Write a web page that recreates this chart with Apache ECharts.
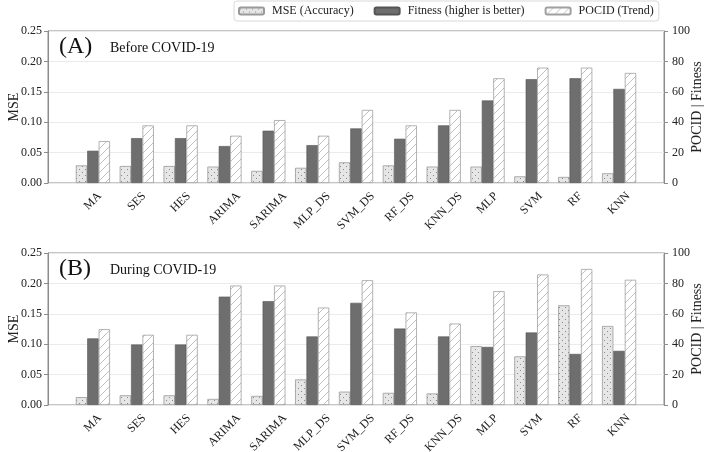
<!DOCTYPE html>
<html><head><meta charset="utf-8">
<script src="https://cdn.jsdelivr.net/npm/echarts@6/dist/echarts.min.js"></script>
<style>html,body{margin:0;padding:0;background:#fff}#c{width:708px;height:452px}</style>
</head><body><div id="c"></div>
<script>
const categories = ['MA','SES','HES','ARIMA','SARIMA','MLP_DS','SVM_DS','RF_DS','KNN_DS','MLP','SVM','RF','KNN'];
const mseBefore = [0.029,0.028,0.028,0.027,0.020,0.025,0.034,0.029,0.027,0.027,0.011,0.010,0.016];
const fitBefore = [21.2,29.5,29.5,24.3,34.4,24.9,35.9,29.1,37.9,54.3,68.3,68.9,61.9];
const pocBefore = [27.6,37.9,37.9,31.1,41.4,31.1,48.1,37.9,48.1,68.9,75.9,75.9,72.4];
const mseDuring = [0.013,0.016,0.016,0.010,0.015,0.042,0.022,0.020,0.019,0.097,0.080,0.164,0.130];
const fitDuring = [43.8,39.8,39.8,71.3,68.3,45.1,67.2,50.3,45.1,38.2,47.7,33.6,35.6];
const pocDuring = [49.9,46.2,46.2,78.6,78.6,64.1,82.1,60.9,53.6,74.9,85.9,89.5,82.4];
const mseTicks = [0, 0.25, 0.05];
const rightTicks = [0, 100, 20];
const panelLabels = ['(A)','(B)'];
const panelTitles = ['Before COVID-19','During COVID-19'];
const names = ['MSE (Accuracy)','Fitness (higher is better)','POCID (Trend)'];

const FONT = 'Liberation Serif';
const LABEL_FONT = '12px "' + FONT + '"';

const measureCanvas = document.createElement('canvas').getContext('2d');
function textWidth(t){ measureCanvas.font = LABEL_FONT; return measureCanvas.measureText(t).width; }

function dotPattern(){
  const c = document.createElement('canvas'); c.width = 6; c.height = 6;
  const g = c.getContext('2d');
  g.fillStyle = '#e6e6e6'; g.fillRect(0,0,6,6);
  g.fillStyle = '#8a8a8a';
  g.fillRect(1,1,1,1); g.fillRect(4,4,1,1);
  return {image: c, repeat: 'repeat'};
}
function hatchPattern(){
  const s = 8;
  const c = document.createElement('canvas'); c.width = s; c.height = s;
  const g = c.getContext('2d');
  g.fillStyle = '#ffffff'; g.fillRect(0,0,s,s);
  g.strokeStyle = '#b0b0b0'; g.lineWidth = 0.8;
  g.beginPath();
  g.moveTo(0,s); g.lineTo(s,0);
  g.moveTo(-1,1); g.lineTo(1,-1);
  g.moveTo(s-1,s+1); g.lineTo(s+1,s-1);
  g.stroke();
  return {image: c, repeat: 'repeat'};
}
const dots = dotPattern();
const hatch = hatchPattern();

const panels = [
  {top: 31, mse: mseBefore, fit: fitBefore, poc: pocBefore},
  {top: 253, mse: mseDuring, fit: fitDuring, poc: pocDuring}
];
const H = 152;
const grid = [], xAxis = [], yAxis = [], series = [], graphic = [];
panels.forEach((p, i) => {
  grid.push({left: 48, right: 44, top: p.top, height: H, show: true, borderColor: '#8c8c8c', borderWidth: 1,
    containLabel: false, outerBoundsMode: 'none'});
  grid.push({left: 71, right: 67, top: p.top, height: H, containLabel: false, outerBoundsMode: 'none'});
  const gf = 2*i, gd = 2*i+1;
  xAxis.push({type: 'value', gridIndex: gf, show: false, min: 0, max: 1});
  xAxis.push({type: 'category', gridIndex: gd, data: categories,
    axisLine: {show: false}, axisTick: {show: false}, axisLabel: {show: false}});
  yAxis.push({type: 'value', gridIndex: gf, position: 'left', min: mseTicks[0], max: mseTicks[1], interval: mseTicks[2],
    name: 'MSE', nameLocation: 'middle', nameGap: 27, nameRotate: 90, nameMoveOverlap: false,
    nameTextStyle: {fontFamily: FONT, fontSize: 14, color: '#222'},
    axisLine: {show: true, lineStyle: {color: '#8c8c8c'}}, axisTick: {show: true, length: 4, lineStyle: {color: '#8c8c8c'}},
    axisLabel: {fontFamily: FONT, fontSize: 12, color: '#222', margin: 6, formatter: v => v.toFixed(2)},
    splitLine: {show: true, lineStyle: {color: '#ebebeb'}}});
  yAxis.push({type: 'value', gridIndex: gf, position: 'right', min: rightTicks[0], max: rightTicks[1], interval: rightTicks[2],
    name: 'POCID | Fitness', nameLocation: 'middle', nameGap: 26, nameRotate: 90, nameMoveOverlap: false,
    nameTextStyle: {fontFamily: FONT, fontSize: 14, color: '#222'},
    axisLine: {show: true, lineStyle: {color: '#8c8c8c'}}, axisTick: {show: true, length: 4, lineStyle: {color: '#8c8c8c'}},
    axisLabel: {fontFamily: FONT, fontSize: 12, color: '#222', margin: 8},
    splitLine: {show: false}});
  const yl = yAxis.length;
  yAxis.push({type: 'value', gridIndex: gd, show: false, min: mseTicks[0], max: mseTicks[1]});
  yAxis.push({type: 'value', gridIndex: gd, show: false, min: rightTicks[0], max: rightTicks[1]});
  const xi = 2*i+1;
  series.push({type: 'bar', name: names[0], xAxisIndex: xi, yAxisIndex: yl, data: p.mse,
    barGap: '0%', barCategoryGap: '22%',
    itemStyle: {color: dots, borderColor: '#9a9a9a', borderWidth: 0.8}});
  series.push({type: 'bar', name: names[1], xAxisIndex: xi, yAxisIndex: yl+1, data: p.fit,
    barGap: '0%', barCategoryGap: '22%',
    itemStyle: {color: '#6e6e6e', borderColor: '#555', borderWidth: 0.6}});
  series.push({type: 'bar', name: names[2], xAxisIndex: xi, yAxisIndex: yl+1, data: p.poc,
    barGap: '0%', barCategoryGap: '22%',
    itemStyle: {color: hatch, borderColor: '#a0a0a0', borderWidth: 0.8}});
  // category tick labels, rotated 45deg with their bounding box centred on the category
  series.push({type: 'custom', name: 'labels' + i, xAxisIndex: xi, yAxisIndex: yl, clip: false, silent: true,
    data: categories.map((c, k) => [k, 0]),
    renderItem: (params, api) => {
      const idx = api.value(0);
      const pt = api.coord([idx, 0]);
      const txt = categories[idx];
      const bh = (textWidth(txt) + 12) * Math.SQRT1_2;
      return {type: 'text', x: pt[0], y: pt[1] + 7 + bh / 2, rotation: Math.PI / 4,
        style: {text: txt, align: 'center', verticalAlign: 'middle', font: LABEL_FONT, fill: '#1a1a1a'}};
    }});
  graphic.push({type: 'text', left: 59, top: p.top + 4, style: {text: panelLabels[i], font: '24px "' + FONT + '"', fill: '#111'}});
  graphic.push({type: 'text', left: 110, top: p.top + 10, style: {text: panelTitles[i], font: '14px "' + FONT + '"', fill: '#111'}});
});

const chart = echarts.init(document.getElementById('c'), null, {renderer: 'canvas'});
chart.setOption({
  animation: false,
  backgroundColor: '#fff',
  legend: {data: names, top: 1, left: 234, itemWidth: 25, itemHeight: 7, itemGap: 20,
    padding: [4, 5, 4, 4], borderColor: '#d8d8d8', borderWidth: 1, borderRadius: 3,
    textStyle: {fontFamily: FONT, fontSize: 12, color: '#222', padding: [0, 0, 0, 3]}},
  grid, xAxis, yAxis, series, graphic
});
</script></body></html>
